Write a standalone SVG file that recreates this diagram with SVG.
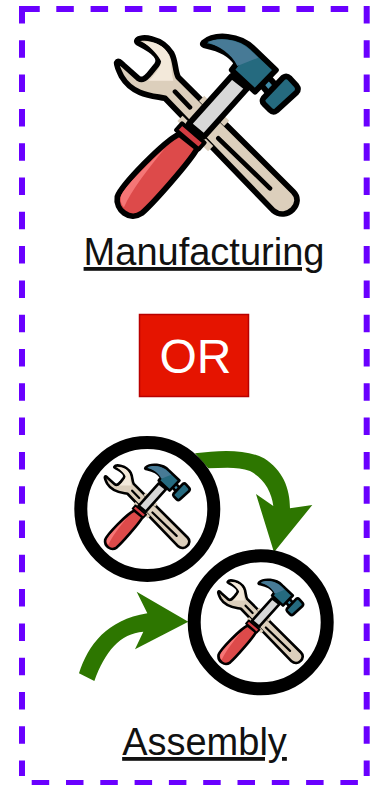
<svg xmlns="http://www.w3.org/2000/svg" xmlns:xlink="http://www.w3.org/1999/xlink" width="385" height="785" viewBox="0 0 385 785">
<style>
.t{font-family:"Liberation Sans",Arial,sans-serif;font-size:38px;fill:#111;text-decoration:underline;text-anchor:middle}
.o{stroke:#000;stroke-width:17;stroke-linejoin:round;stroke-linecap:round}
.l{fill:none;stroke:#000;stroke-width:14;stroke-linecap:round}
.g{fill:none;stroke:#dccfbc;stroke-width:22;stroke-linecap:butt}
.arrow{fill:#2d7600}
.ring{fill:#fff;stroke:#000;stroke-width:13}
</style>
<defs>
<g id="tools">
<path class="o" fill="#dccfbc" d="M142 60C150 48 215 50 245 100C258 125 255 155 265 172L610 515C645 550 590 605 550 572L225 235C200 228 130 230 95 170C85 150 78 135 80 128C84 120 90 125 100 135L145 175C160 185 170 170 180 160L200 135C215 115 195 95 150 72C142 68 138 65 142 60Z"/>
<path fill="#f3e9da" d="M160 66C195 62 232 80 241 118C245 140 244 160 250 182L175 182C190 170 213 140 214 125C205 105 185 85 160 66Z"/>
<path class="l" d="M255 215L300 262M385 355L540 505"/>
<path class="g" d="M335 235L410 310M270 295L362 386"/>
<path class="o" fill="#dd4a4a" d="M268 342C220 365 95 495 82 530C75 570 120 605 155 580C190 550 300 425 322 385Z"/>
<path fill="#f57676" d="M225 385C170 435 105 500 93 528C90 545 95 555 102 562C125 510 175 445 225 385Z"/>
<path class="o" fill="#d8d8d8" d="M296 312L425 168L472 205L342 350Z"/>
<path fill="#d43c42" stroke="#000" stroke-width="12" stroke-linejoin="round" d="M258 330L276 310L344 368L326 388Z"/>
<path class="o" fill="#3f8ba8" d="M510 190L535 170L560 198L535 220Z"/>
<path class="o" fill="#256a7f" d="M520 235L580 172Q590 165 600 175L620 197Q628 207 620 217L560 272Q550 280 540 270L522 252Q514 243 520 235Z"/>
<path class="o" fill="#256a7f" d="M340 68C375 38 450 45 490 85L558 150L495 215L425 150L440 130C420 100 385 85 350 78C340 76 336 73 340 68Z"/>
<path fill="#477a96" d="M352 66C385 50 445 55 483 92L505 113L442 138C425 100 385 78 352 66Z"/>
</g>
</defs>
<rect width="385" height="785" fill="#fff"/>
<g id="frame" fill="none" stroke="#6a00ff" stroke-width="6">
<path stroke-dasharray="17.500 16.800" d="M22 6V776M366.700 6V776M22 9H350M31.700 783H358"/>
<path d="M19 9H39.500"/>
</g>
<g id="icon-main"><use xlink:href="#tools" href="#tools" transform="translate(90 20) scale(.3333)"/></g>
<g id="label-manufacturing"><text class="t" x="204" y="265">Manufacturing</text></g>
<g id="or-box">
<rect x="139.500" y="314.500" width="109" height="82" fill="#e51400" stroke="#b80000" stroke-width="1.500"/>
<text x="195.500" y="372.500" font-family="Liberation Sans,Arial,sans-serif" font-size="48" fill="#fff" text-anchor="middle">OR</text>
</g>
<g id="connectors" transform="translate(60 425) scale(.3333)">
<path class="arrow" d="M405 85C480 75 560 72 612 100C668 135 690 190 690 250L757 240L642 382L588 207L640 243C635 200 612 160 570 138C535 124 490 128 445 130Z"/>
<path class="arrow" d="M57 745C85 660 140 585 262 565L230 500L385 590L225 673L250 620C180 625 135 680 103 768Z"/>
</g>
<g id="node-source">
<circle class="ring" cx="147.300" cy="509" r="66.500"/>
<use xlink:href="#tools" href="#tools" transform="translate(92.400 457.100) scale(.156)"/>
</g>
<g id="node-target">
<circle class="ring" cx="260.700" cy="622.300" r="66.500"/>
<use xlink:href="#tools" href="#tools" transform="translate(205.800 572.100) scale(.156)"/>
</g>
<g id="label-assembly"><text class="t" x="204.500" y="755">Assembly</text></g>
</svg>
